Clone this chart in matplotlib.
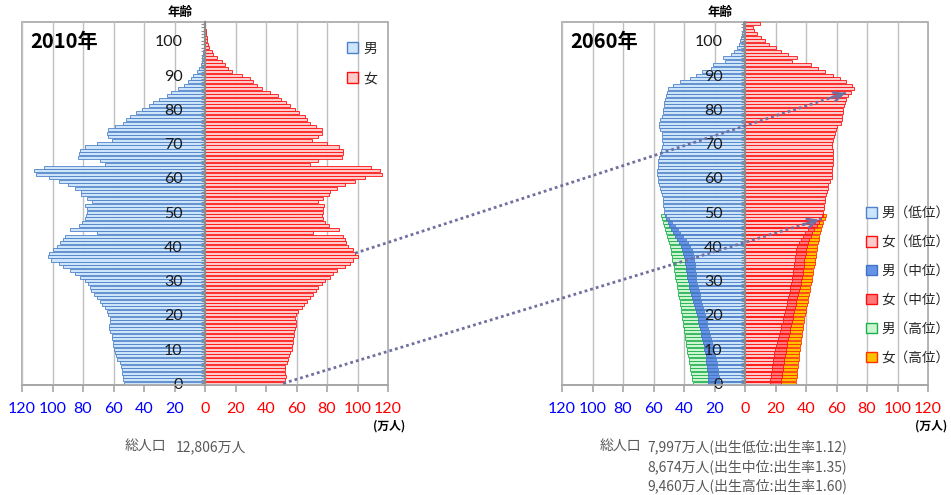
import numpy as np
import matplotlib.pyplot as plt
from matplotlib.patches import Patch, FancyArrowPatch
from matplotlib.lines import Line2D

plt.rcParams['font.family'] = ['Noto Sans CJK JP', 'DejaVu Sans']

# ---- data (万人) ----
ages = np.arange(0, 106)

male_2010 = [53, 54, 54, 54.5, 54.5, 55, 56, 57.5, 58.5, 59,
             59.5, 60.5, 60.5, 61, 61, 62, 63, 63, 62.5, 62.5,
             63.5, 64.5, 65.5, 67.5, 69, 71, 72.5, 74.5, 75.5, 76.5,
             78.5, 82, 85.5, 88.5, 93, 96, 101, 103, 102, 100,
             97, 95, 93, 92, 71, 88.5, 82.5, 80.5, 78.5, 78,
             77.5, 77.5, 78.5, 74, 77.5, 81, 81, 85.5, 90, 95.5,
             102.5, 111, 112, 105.5, 65.5, 69, 83.5, 82.5, 82, 79,
             71, 61, 63.5, 64.5, 63.5, 59, 54, 52, 49, 45,
             41, 37, 34, 30, 25, 22, 17.5, 14, 11, 9.5,
             8, 5, 3.7, 2.8, 2.2, 1.7, 1.3, 1.0, 0.8, 0.6,
             0.4, 0.3, 0.2, 0.15, 0.1, 0.1]
female_2010 = [51.4, 52.5, 52.9, 52.5, 52.5, 52.5, 53.6, 54.6, 55.3, 55.7,
               56.8, 56.8, 57.5, 57.9, 58.4, 58.4, 59.2, 59.7, 59.7, 59,
               59.7, 61.2, 63.4, 64.9, 66.7, 68.9, 71, 72.8, 74.3, 76.5,
               78.7, 82, 84, 86.3, 91.8, 95, 97.3, 100, 98.5, 97,
               94, 92.5, 91.5, 90.5, 71, 88, 81.5, 79, 77.5, 77,
               77.2, 77.6, 78, 74.3, 77.6, 81.5, 82, 86.3, 91.8, 98.4,
               105, 115.8, 114.8, 109, 69, 74.3, 89.6, 90.7, 90.7, 88,
               80, 70, 74.3, 76.5, 76.5, 72.8, 68.9, 67.1, 65.6, 61.9,
               59, 55.7, 53.1, 49.8, 47.6, 42.6, 37.2, 33.9, 31.7, 29.5,
               24, 17.5, 15.3, 13.1, 10.9, 7.7, 5.5, 4.4, 2.8, 2.2,
               1.5, 1.1, 0.7, 0.5, 0.3, 0.2]

# 2060, low fertility (all ages)
male_2060_low = [16.5, 16.8, 17.1, 17.4, 17.8, 18.2, 18.6, 19.1, 19.6, 20.2,
                 20.8, 21.3, 21.9, 22.4, 23, 23.6, 24.1, 24.6, 25.2, 25.7,
                 26.2, 26.8, 27.4, 28, 28.6, 29.2, 29.8, 30.4, 30.9, 31.4,
                 31.9, 32.2, 32.4, 32.6, 32.8, 33, 33.2, 33.5, 34, 35,
                 36, 37.3, 38.7, 40.5, 42.5, 44.2, 46, 48, 50, 51.5,
                 52.9, 53.1, 53.6, 53.6, 54, 54.6, 55, 55.7, 56.4, 56.8,
                 57.3, 57.5, 57.5, 57.3, 57.3, 56.8, 56.4, 55.7, 55.3, 54.6,
                 53.6, 54.2, 54.6, 54.6, 55.7, 56.2, 56.2, 55.7, 54.6, 53.6,
                 53.6, 53.1, 52.9, 52.5, 51.8, 51.4, 50.3, 47, 42.6, 36,
                 32, 28.4, 22, 20.8, 13, 14.2, 9.5, 7.5, 5.5, 4,
                 3.3, 2.6, 2, 1.5, 1.0, 1.0]
female_2060_low = [16.4, 16.6, 16.9, 17.2, 17.5, 17.8, 18.1, 18.5, 18.9, 19.3,
                   19.7, 20.3, 20.9, 21.5, 22.1, 22.7, 23.3, 23.9, 24.6, 25.2,
                   25.8, 26.3, 26.8, 27.3, 27.8, 28.3, 28.8, 29.3, 29.8, 30.2,
                   30.6, 31, 31.3, 31.6, 31.9, 32.2, 32.5, 32.8, 33.2, 33.6,
                   34.2, 35.2, 36.4, 37.8, 39.5, 41.5, 43.8, 46.2, 48.5, 50.5,
                   51.4, 51.8, 52, 52.5, 52.5, 52.9, 53.6, 54.2, 54.6, 55.7,
                   56.8, 56.8, 57.3, 57.3, 57.5, 57.5, 57.5, 57.9, 57.5, 56.8,
                   56.8, 57.5, 58.4, 59, 59.7, 60.5, 63, 63.4, 63.4, 64,
                   64.5, 65, 65.6, 66.5, 67.5, 69.5, 71.5, 70, 66.5, 62,
                   58, 52.5, 48, 43, 30.5, 34, 28, 23.5, 20, 16,
                   13, 10.5, 8, 6, 5.5, 9.8]

# 2060, medium / high fertility (ages 0-49 only)
male_2060_mid = [24, 24.1, 24.3, 24.5, 24.7, 25, 25.3, 25.6, 25.9, 26.2,
                 26.6, 27.1, 27.6, 28.1, 28.6, 29.1, 29.6, 30.1, 30.6, 31.1,
                 31.6, 32.2, 32.8, 33.4, 34, 34.6, 35.2, 35.8, 36.4, 37,
                 37.6, 38, 38.3, 38.6, 38.9, 39.2, 39.5, 40, 40.5, 41.2,
                 42, 43.2, 44.4, 45.9, 47.3, 48.5, 49.7, 50.8, 51.7, 52.5]
female_2060_mid = [23.6, 23.8, 24.1, 24.4, 24.7, 25, 25.4, 25.8, 26.2, 26.6,
                   27, 27.4, 27.8, 28.2, 28.7, 29.2, 29.7, 30.2, 30.7, 31.2,
                   31.7, 32.2, 32.7, 33.2, 33.7, 34.2, 34.8, 35.3, 35.8, 36.4,
                   37, 37.4, 37.8, 38.1, 38.4, 38.7, 39, 39.3, 39.7, 40.1,
                   40.6, 41.3, 42.1, 43, 44.2, 45.5, 47, 48.5, 50, 51.2]
male_2060_high = [34.3, 34.6, 35, 35.4, 35.8, 36.2, 36.6, 37, 37.4, 37.9,
                  38.3, 38.6, 38.9, 39.2, 39.6, 39.9, 40.2, 40.5, 40.9, 41.2,
                  41.5, 41.9, 42.2, 42.6, 42.9, 43.3, 43.7, 44.1, 44.5, 44.9,
                  45.2, 45.6, 46, 46.4, 46.8, 47.2, 47.6, 47.9, 48.3, 48.7,
                  49, 49.6, 50.2, 50.9, 51.6, 52.3, 53, 53.7, 54.3, 55]
female_2060_high = [33.4, 33.6, 33.9, 34.1, 34.4, 34.6, 34.9, 35.2, 35.4, 35.7,
                    36, 36.3, 36.6, 37, 37.3, 37.6, 37.9, 38.3, 38.6, 39,
                    39.3, 39.7, 40.2, 40.6, 41, 41.5, 41.9, 42.4, 42.8, 43.3,
                    43.7, 44.1, 44.5, 44.9, 45.3, 45.7, 46.1, 46.5, 46.8, 47.1,
                    47.4, 47.8, 48.2, 48.6, 49, 49.8, 50.6, 51.4, 52.3, 53.2]

x_ticks = [-120, -100, -80, -60, -40, -20, 0, 20, 40, 60, 80, 100, 120]
age_ticks = [0, 10, 20, 30, 40, 50, 60, 70, 80, 90, 100]

total_label = '総人口'
total_2010 = '12,806万人'
totals_2060 = ['7,997万人(出生低位:出生率1.12)',
               '8,674万人(出生中位:出生率1.35)',
               '9,460万人(出生高位:出生率1.60)']

# arrows: (age in 2010, age in 2060, inset of arrow tip)
arrow_pairs = [(0, 48, 2), (38, 85, 2)]

# ---- colours ----
c_m_low, e_m = '#CDE5FB', '#4F81C8'
c_f_low, e_f = '#FFCACA', '#FF1010'
c_m_mid, e_m_mid = '#6593E8', '#4472C4'
c_f_mid = '#FF7777'
c_m_high, e_m_high = '#CCF5D0', '#1DB04E'
c_f_high, e_f_high = '#FFC000', '#FF3300'

W, H = 951, 495
fig = plt.figure(figsize=(W / 100, H / 100), dpi=100)
ax1 = fig.add_axes([22 / W, 1 - 385 / H, 366 / W, 363 / H])
ax2 = fig.add_axes([562 / W, 1 - 385 / H, 366 / W, 363 / H])

bh = 0.88
lw = 0.6


def setup(ax):
    ax.set_xlim(-120, 120)
    ax.set_ylim(-0.5, 105.5)
    for x in x_ticks:
        ax.axvline(x, color='#C0C0C0', lw=1, zorder=0)
    ax.patch.set_edgecolor('#A6A6A6')
    ax.patch.set_linewidth(1.2)
    ax.spines['top'].set_visible(False)
    ax.spines['right'].set_visible(False)
    ax.spines['left'].set_position(('data', 0))
    ax.spines['left'].set_color('#8C8C8C')
    ax.spines['left'].set_linewidth(1.6)
    ax.spines['bottom'].set_color('#A6A6A6')
    ax.spines['bottom'].set_linewidth(1.2)
    ax.set_xticks(x_ticks)
    ax.set_xticklabels([str(abs(x)) for x in x_ticks], fontfamily='Lato')
    for lbl, x in zip(ax.get_xticklabels(), x_ticks):
        lbl.set_color('#0000FF' if x < 0 else '#FF0000')
    ax.tick_params(axis='x', direction='out', length=5, width=1.2,
                   color='#A6A6A6', pad=7, labelsize=11.5)
    ax.set_yticks(age_ticks)
    ax.set_yticklabels([str(a) for a in age_ticks], fontfamily='Lato')
    ax.set_yticks(ages, minor=True)
    ax.tick_params(axis='y', which='both', direction='out', length=3,
                   width=0.8, color='#8C8C8C', pad=13, labelsize=11.5,
                   labelcolor='#1A1A1A')


setup(ax1)
setup(ax2)

# 2010
ax1.barh(ages, -np.array(male_2010), height=bh, color=c_m_low,
         edgecolor=e_m, linewidth=lw, zorder=1)
ax1.barh(ages, female_2010, height=bh, color=c_f_low,
         edgecolor=e_f, linewidth=lw, zorder=1)

# 2060 (high behind, then mid, then low on top)
young = ages[:50]
ax2.barh(young, -np.array(male_2060_high), height=bh, color=c_m_high,
         edgecolor=e_m_high, linewidth=lw, zorder=1)
ax2.barh(young, -np.array(male_2060_mid), height=bh, color=c_m_mid,
         edgecolor=e_m_mid, linewidth=lw, zorder=1)
ax2.barh(ages, -np.array(male_2060_low), height=bh, color=c_m_low,
         edgecolor=e_m, linewidth=lw, zorder=1)
ax2.barh(young, female_2060_high, height=bh, color=c_f_high,
         edgecolor=e_f_high, linewidth=lw, zorder=1)
ax2.barh(young, female_2060_mid, height=bh, color=c_f_mid,
         edgecolor=e_f, linewidth=lw, zorder=1)
ax2.barh(ages, female_2060_low, height=bh, color=c_f_low,
         edgecolor=e_f, linewidth=lw, zorder=1)

# titles inside plots
for ax, title in [(ax1, '2010年'), (ax2, '2060年')]:
    ax.text(0.022, 0.945, title, transform=ax.transAxes, fontsize=14.5,
            fontweight='bold', va='center', ha='left', color='black')

# 年齢 labels and units
fig.text(180 / W, 1 - 12 / H, '年齢', fontsize=9, fontweight='bold',
         ha='center', va='center')
fig.text(720 / W, 1 - 12 / H, '年齢', fontsize=9, fontweight='bold',
         ha='center', va='center')
fig.text(389 / W, 1 - 426 / H, '(万人)', fontsize=8.5, fontweight='bold',
         ha='center', va='center')
fig.text(931 / W, 1 - 426 / H, '(万人)', fontsize=8.5, fontweight='bold',
         ha='center', va='center')

# legends
h1 = [Patch(facecolor=c_m_low, edgecolor=e_m, label='男'),
      Patch(facecolor=c_f_low, edgecolor=e_f, label='女')]
leg1 = fig.legend(handles=h1, loc='center', bbox_to_anchor=(362 / W, 1 - 63.5 / H),
                  frameon=False, fontsize=10, handlelength=0.8, handleheight=0.8,
                  handletextpad=0.35, labelspacing=1.15, borderpad=0)
h2 = [Patch(facecolor=c_m_low, edgecolor=e_m, label='男（低位）'),
      Patch(facecolor=c_f_low, edgecolor=e_f, label='女（低位）'),
      Patch(facecolor=c_m_mid, edgecolor=e_m_mid, label='男（中位）'),
      Patch(facecolor=c_f_mid, edgecolor=e_f, label='女（中位）'),
      Patch(facecolor=c_m_high, edgecolor=e_m_high, label='男（高位）'),
      Patch(facecolor=c_f_high, edgecolor=e_f_high, label='女（高位）')]
leg2 = fig.legend(handles=h2, loc='center', bbox_to_anchor=(908 / W, 1 - 285.5 / H),
                  frameon=False, fontsize=9.8, handlelength=0.8, handleheight=0.8,
                  handletextpad=0.3, labelspacing=1.1, borderpad=0)
for leg in (leg1, leg2):
    for t in leg.get_texts():
        t.set_color('#262626')

# totals
grey = '#595959'
fig.text(125 / W, 1 - 447 / H, total_label, fontsize=10, color=grey, va='center')
fig.text(176 / W, 1 - 447 / H, total_2010, fontsize=10, color=grey, va='center')
fig.text(600 / W, 1 - 447 / H, total_label, fontsize=10, color=grey, va='center')
for i, s in enumerate(totals_2060):
    fig.text(647 / W, 1 - (447 + 19.5 * i) / H, s, fontsize=10, color=grey,
             va='center')

# dotted arrows from 2010 cohort to 2060
to_fig = fig.transFigure.inverted()
acol = '#6F6FA0'
for a0, a1, inset in arrow_pairs:
    x1 = (female_2060_high[a1] if a1 < 50 else female_2060_low[a1]) - inset
    p0 = to_fig.transform(ax1.transData.transform((female_2010[a0], a0)))
    p1 = to_fig.transform(ax2.transData.transform((x1, a1)))
    fig.add_artist(Line2D([p0[0], p1[0]], [p0[1], p1[1]], transform=fig.transFigure,
                          color=acol, lw=2, ls=(0, (1, 1.1)), zorder=10))
    ph = p1 - 0.04 * (p1 - p0)
    fig.add_artist(FancyArrowPatch(ph, p1, transform=fig.transFigure,
                                   arrowstyle='->', mutation_scale=16,
                                   color=acol, lw=1.8, zorder=10))

fig.savefig('out.png', dpi=100)
